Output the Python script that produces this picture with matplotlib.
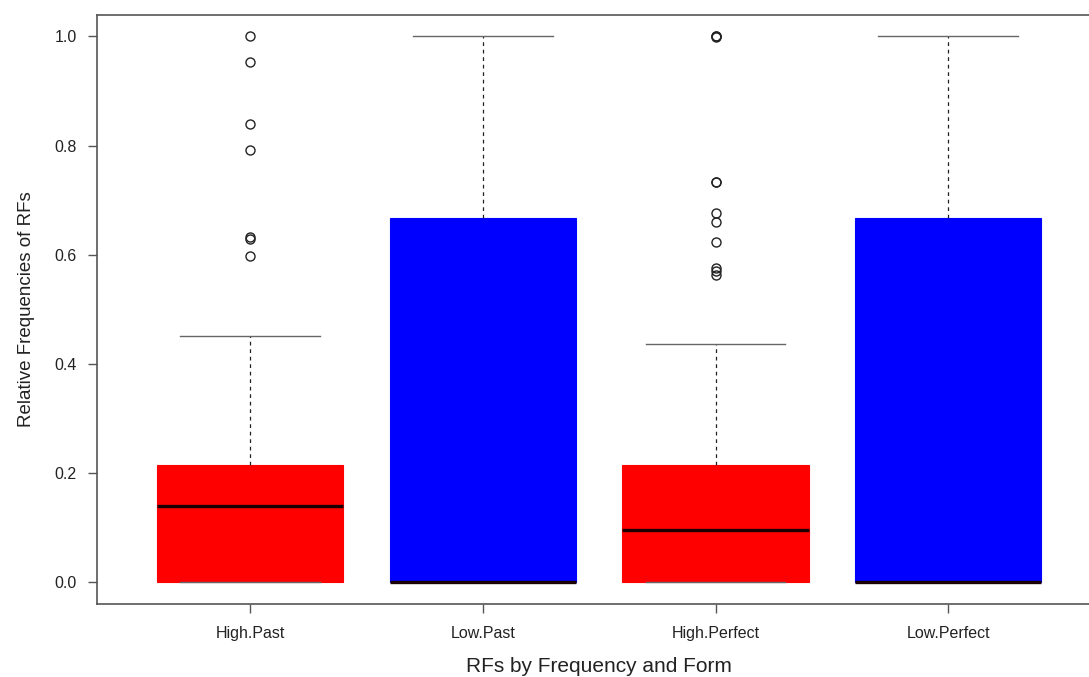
import matplotlib
matplotlib.use("Agg")
import matplotlib.pyplot as plt

plt.rcParams['font.family'] = ['Liberation Sans', 'DejaVu Sans']

categories = ["High.Past", "Low.Past", "High.Perfect", "Low.Perfect"]
q1 = [0.0, 0.0, 0.0, 0.0]
medians = [0.140, 0.0, 0.096, 0.0]
q3 = [0.214, 0.667, 0.214, 0.667]
whisker_low = [0.0, 0.0, 0.0, 0.0]
whisker_high = [0.451, 1.0, 0.437, 1.0]
fliers = [
    [1.0, 0.953, 0.839, 0.791, 0.632, 0.629, 0.597],
    [],
    [1.0, 1.0, 0.999, 0.733, 0.734, 0.676, 0.660, 0.624, 0.575, 0.570, 0.562],
    [],
]
colors = ["#ff0000", "#0000ff", "#ff0000", "#0000ff"]

fig = plt.figure(figsize=(10.89, 6.77), dpi=100)
ax = fig.add_axes([96.7 / 1089, 73 / 677, 1005 / 1089, 589.5 / 677])

stats = []
for i, name in enumerate(categories):
    stats.append(dict(label=name, q1=q1[i], med=medians[i], q3=q3[i],
                      whislo=whisker_low[i], whishi=whisker_high[i],
                      fliers=fliers[i]))

bp = ax.bxp(stats, positions=range(1, len(categories) + 1), widths=0.8,
            patch_artist=True, showfliers=True,
            boxprops=dict(linewidth=0.8),
            medianprops=dict(color="#1a0000", linewidth=2.4),
            whiskerprops=dict(color="#222222", linestyle=(0, (3, 3)), linewidth=0.9),
            capprops=dict(color="#666666", linewidth=1.0),
            flierprops=dict(marker="o", markersize=6.5, markerfacecolor="none",
                            markeredgecolor="#222222", markeredgewidth=1.0))
for patch, c in zip(bp["boxes"], colors):
    patch.set_facecolor(c)
    patch.set_edgecolor(c)
for cap in bp["caps"]:
    x = cap.get_xdata()
    cx = (x[0] + x[1]) / 2
    cap.set_xdata([cx - 0.3, cx + 0.3])

ax.set_xlim(0.34, 4.66)
ax.set_ylim(-0.04, 1.04)
ax.set_yticks([0.0, 0.2, 0.4, 0.6, 0.8, 1.0])
ax.set_yticklabels(["0.0", "0.2", "0.4", "0.6", "0.8", "1.0"])
ax.set_xticks(range(1, 5))
ax.set_xticklabels(categories)

for s in ax.spines.values():
    s.set_color("#555555")
    s.set_linewidth(1.2)
ax.tick_params(axis="both", direction="out", length=6.5, width=1.0, color="#555555",
               labelsize=11.5, labelcolor="#222222")
ax.tick_params(axis="x", pad=9.5)
ax.tick_params(axis="y", pad=8)

ax.set_xlabel("RFs by Frequency and Form", fontsize=15, color="#222222", labelpad=11)
ax.set_ylabel("Relative Frequencies of RFs", fontsize=13.5, color="#222222", labelpad=14)

fig.savefig("out.png", dpi=100)
